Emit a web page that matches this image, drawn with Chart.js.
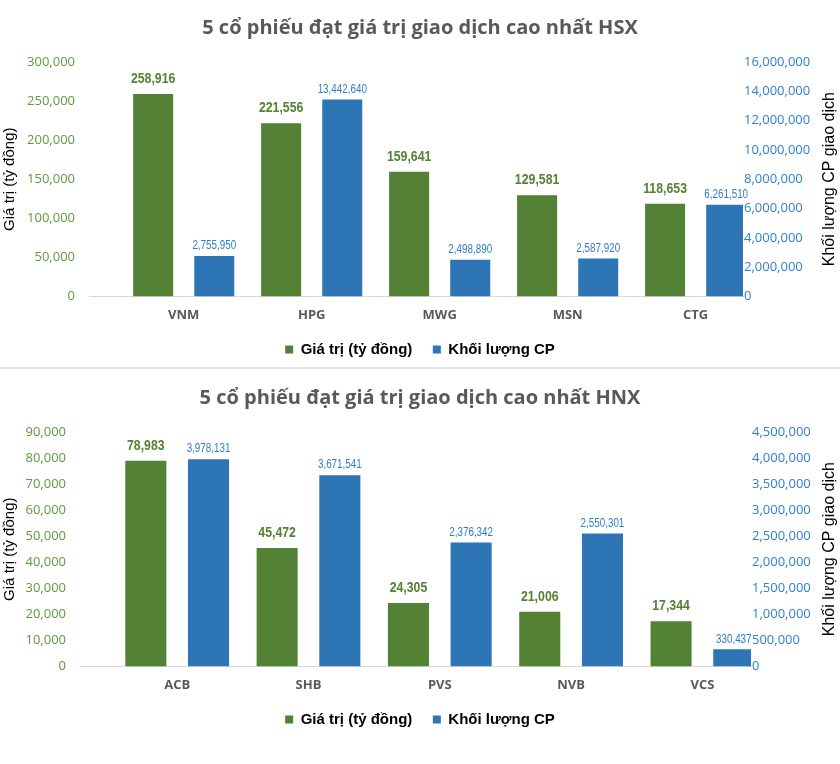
<!DOCTYPE html>
<html>
<head>
<meta charset="utf-8">
<script src="https://cdn.jsdelivr.net/npm/chart.js@4.4.1/dist/chart.umd.min.js"></script>
<style>
  body { margin: 0; background: #fff; }
  #wrap { width: 840px; height: 764px; position: relative; }
  #c1 { position: absolute; left: 0; top: 0; }
  #sep { position: absolute; left: 0; top: 367px; width: 840px; height: 2px; background: #e3e3e3; }
  #c2 { position: absolute; left: 0; top: 370px; }
</style>
</head>
<body>
<div id="wrap">
  <canvas id="c1" width="840" height="367"></canvas>
  <div id="sep"></div>
  <canvas id="c2" width="840" height="367"></canvas>
</div>
<script>
// HSX data
var hsxStocks = ["VNM", "HPG", "MWG", "MSN", "CTG"];
var hsxValue = [258916, 221556, 159641, 129581, 118653];       // tỷ đồng
var hsxVolume = [2755950, 13442640, 2498890, 2587920, 6261510]; // CP

// HNX data
var hnxStocks = ["ACB", "SHB", "PVS", "NVB", "VCS"];
var hnxValue = [78983, 45472, 24305, 21006, 17344];
var hnxVolume = [3978131, 3671541, 2376342, 2550301, 330437];

var green = "#548235";
var blue = "#2E75B6";

// numbers above each bar (narrow font faked with a horizontal squeeze)
// + right axis title, which reads bottom to top in the original
var barLabels = {
  id: "barLabels",
  afterDatasetsDraw: function(chart) {
    var ctx = chart.ctx;
    chart.data.datasets.forEach(function(ds, i) {
      var meta = chart.getDatasetMeta(i);
      meta.data.forEach(function(bar, j) {
        ctx.save();
        ctx.font = ds.labelFont;
        ctx.fillStyle = ds.labelColor;
        ctx.textAlign = "center";
        ctx.textBaseline = "middle";
        ctx.translate(bar.x, bar.y - ds.labelGap);
        ctx.scale(0.82, 1);
        ctx.fillText(ds.data[j].y.toLocaleString("en-US"), 0, 0);
        ctx.restore();
      });
    });
    var area = chart.chartArea;
    ctx.save();
    ctx.font = "16px 'Liberation Sans'";
    ctx.fillStyle = "#000";
    ctx.textAlign = "center";
    ctx.textBaseline = "middle";
    ctx.translate(chart.width - 10, (area.top + area.bottom) / 2);
    ctx.rotate(-Math.PI / 2);
    ctx.fillText("Khối lượng CP giao dịch", 0, 0);
    ctx.restore();
  }
};

function fmt(v) { return Number(v).toLocaleString("en-US"); }

function buildChart(id, title, stocks, values, volumes, leftMax, leftStep, rightMax, rightStep, leftW, rightW) {
  var valPts = values.map(function(v, i) { return {x: i, y: v}; });
  var volPts = volumes.map(function(v, i) { return {x: i, y: v}; });

  return new Chart(document.getElementById(id), {
    type: "bar",
    data: {
      datasets: [{
        label: "Giá trị (tỷ đồng)",
        data: valPts,
        yAxisID: "y",
        backgroundColor: green,
        labelFont: "bold 15px 'Liberation Sans'",
        labelColor: green,
        labelGap: 15
      }, {
        label: "Khối lượng CP",
        data: volPts,
        yAxisID: "y2",
        backgroundColor: blue,
        labelFont: "12px 'Liberation Sans'",
        labelColor: "#2E7DCC",
        labelGap: 10
      }]
    },
    options: {
      responsive: false,
      animation: false,
      categoryPercentage: 0.955,
      barPercentage: 0.655,
      layout: { padding: { left: 0, right: 0, top: 0, bottom: 0 } },
      plugins: {
        title: {
          display: true,
          text: title,
          color: "#595959",
          font: { family: "'Open Sans'", size: 20, weight: "bold" },
          padding: { top: 16, bottom: 22 }
        },
        legend: {
          position: "bottom",
          labels: {
            boxWidth: 8,
            boxHeight: 8,
            padding: 8,
            color: "#000",
            font: { family: "'Liberation Sans'", size: 15, weight: "bold" },
            generateLabels: function(chart) {
              var items = Chart.defaults.plugins.legend.labels.generateLabels(chart);
              items[0].text += "\u00a0\u00a0\u00a0";
              return items;
            }
          }
        },
        tooltip: { enabled: false }
      },
      scales: {
        x: {
          type: "linear",
          offset: false,
          min: -0.74,
          max: 4.37,
          afterBuildTicks: function(s) {
            s.ticks = stocks.map(function(c, i) { return {value: i}; });
          },
          grid: { display: false, drawTicks: false, offset: false },
          border: { display: true, color: "#d9d9d9", width: 1 },
          ticks: {
            padding: 11,
            color: "#595959",
            font: { family: "'Open Sans'", size: 13, weight: "bold" },
            callback: function(v) { return stocks[v]; }
          }
        },
        y: {
          position: "left",
          min: 0,
          max: leftMax,
          afterBuildTicks: function(s) {
            var t = [];
            for (var v = 0; v <= leftMax; v += leftStep) t.push({value: v});
            s.ticks = t;
          },
          afterFit: function(s) { s.width = leftW; },
          grid: { display: false, drawTicks: false },
          border: { display: false },
          title: {
            display: true,
            text: "Giá trị (tỷ đồng)",
            color: "#000",
            font: { family: "'Liberation Sans'", size: 15 },
            padding: { top: 1, bottom: 0 }
          },
          ticks: {
            padding: 14,
            color: "#5E9A3C",
            font: { family: "'Open Sans'", size: 13 },
            callback: fmt
          }
        },
        y2: {
          position: "right",
          min: 0,
          max: rightMax,
          afterBuildTicks: function(s) {
            var t = [];
            for (var v = 0; v <= rightMax; v += rightStep) t.push({value: v});
            s.ticks = t;
          },
          afterFit: function(s) { s.width = rightW; },
          grid: { display: false, drawTicks: false },
          border: { display: false },
          ticks: {
            padding: 1,
            color: "#2E80CE",
            font: { family: "'Open Sans'", size: 13 },
            callback: fmt
          }
        }
      }
    },
    plugins: [barLabels]
  });
}

buildChart("c1", "5 cổ phiếu đạt giá trị giao dịch cao nhất HSX", hsxStocks, hsxValue, hsxVolume,
  300000, 50000, 16000000, 2000000, 89, 97);
buildChart("c2", "5 cổ phiếu đạt giá trị giao dịch cao nhất HNX", hnxStocks, hnxValue, hnxVolume,
  90000, 10000, 4500000, 500000, 80, 89);
</script>
</body>
</html>
